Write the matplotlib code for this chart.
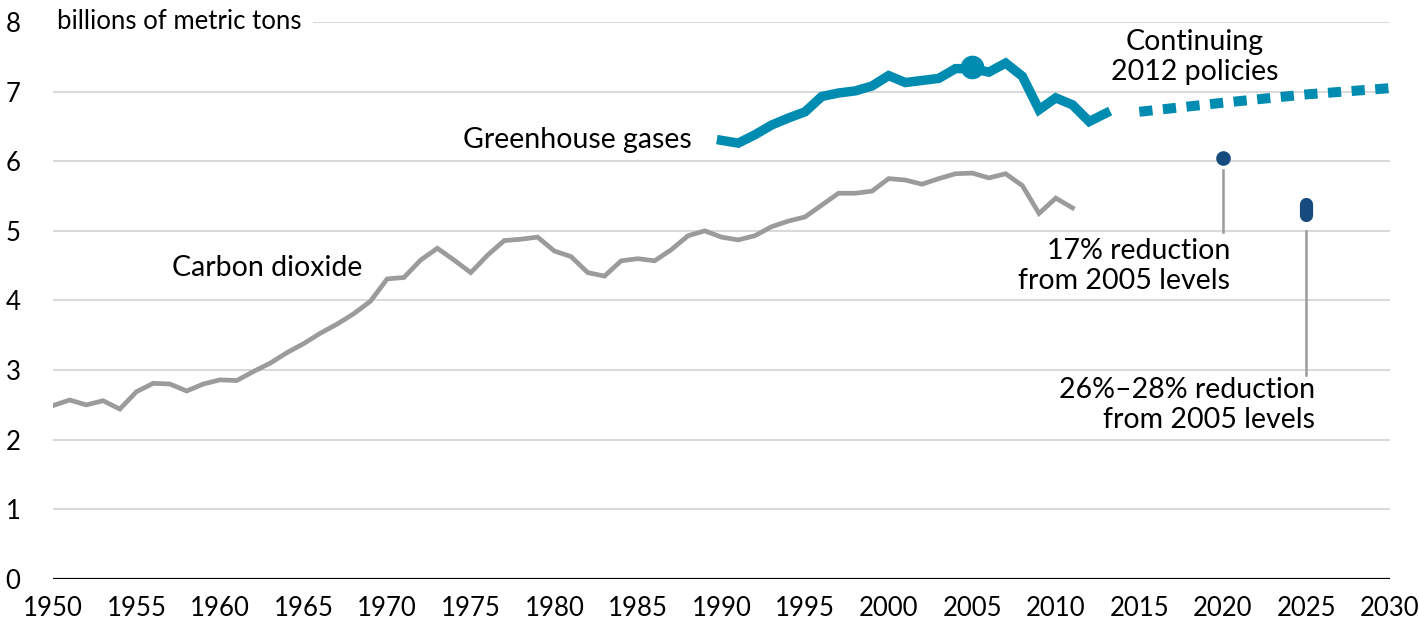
import numpy as np
import matplotlib.pyplot as plt

# annual emissions, billions of metric tons
co2_years = list(range(1950, 2012))
co2_values = [2.49, 2.57, 2.50, 2.56, 2.44, 2.69, 2.81, 2.80, 2.70, 2.80,
              2.86, 2.85, 2.98, 3.10, 3.25, 3.38, 3.53, 3.66, 3.81, 3.99,
              4.31, 4.33, 4.58, 4.75, 4.58, 4.40, 4.65, 4.86, 4.88, 4.91,
              4.71, 4.63, 4.40, 4.35, 4.57, 4.60, 4.57, 4.73, 4.93, 5.00,
              4.91, 4.87, 4.93, 5.06, 5.14, 5.20, 5.37, 5.54, 5.54, 5.57,
              5.75, 5.73, 5.67, 5.75, 5.82, 5.83, 5.76, 5.82, 5.65, 5.25,
              5.47, 5.33]

ghg_years = list(range(1990, 2014))
ghg_values = [6.30, 6.26, 6.38, 6.52, 6.62, 6.71, 6.93, 6.98, 7.01, 7.08,
              7.23, 7.13, 7.16, 7.19, 7.33, 7.33, 7.28, 7.41, 7.22, 6.74,
              6.91, 6.81, 6.57, 6.69]

proj_years = [2015, 2020, 2025, 2030]
proj_values = [6.71, 6.84, 6.96, 7.05]

peak_year, peak_value = 2005, 7.35
target17_year, target17_value = 2020, 6.05
target26_year, target26_range = 2025, (5.23, 5.39)

x_ticks = list(range(1950, 2031, 5))
y_ticks = list(range(0, 9))

teal = '#008cb1'
gray = '#9b9b9b'
navy = '#174b7e'

plt.rcParams['font.family'] = ['Lato', 'DejaVu Sans']

fig = plt.figure(figsize=(14.19, 6.37), dpi=100)
ax = fig.add_axes([0.0373, 0.0911, 0.9423, 0.8744])

ax.set_xlim(1950, 2030)
ax.set_ylim(0, 8)
ax.set_xticks(x_ticks)
ax.set_yticks(y_ticks)
ax.tick_params(length=0, labelsize=18.5, pad=12)
ax.tick_params(axis='y', pad=34)
for lab in ax.get_yticklabels():
    lab.set_horizontalalignment('left')
for s in ax.spines.values():
    s.set_visible(False)

for v in y_ticks[1:]:
    ax.axhline(v, color='#dadada', lw=1.5, zorder=0)
ax.axhline(0, color='black', lw=1.6, zorder=1)

ax.plot(co2_years, co2_values, color=gray, lw=3.4, solid_joinstyle='miter', zorder=3)
ax.plot(ghg_years, ghg_values, color=teal, lw=6.8, solid_joinstyle='miter', zorder=4)
ax.plot(proj_years, proj_values, color=teal, lw=7.2, dashes=(1.32, 1.05),
        dash_capstyle='butt', zorder=4)
ax.plot([peak_year], [peak_value], 'o', color=teal, ms=16, zorder=5)

# targets
ax.plot([target17_year], [target17_value], 'o', color=navy, ms=9.5, zorder=5)
ax.plot([target26_year, target26_year], target26_range, color=navy, lw=9.5,
        solid_capstyle='round', zorder=5)
ax.plot([target17_year, target17_year], [5.87, 4.98], color=gray, lw=1.8, zorder=3)
ax.plot([target26_year, target26_year], [5.0, 2.93], color=gray, lw=1.8, zorder=3)

tk = dict(fontsize=20.5, color='black')
ax.text(2020.45, 4.49, '17% reduction\nfrom 2005 levels', ha='right', va='center',
        linespacing=1.18, **tk)
ax.text(2025.5, 2.50, '26%\u201328% reduction\nfrom 2005 levels', ha='right', va='center',
        linespacing=1.18, **tk)
ax.text(2018.3, 7.50, 'Continuing\n2012 policies', ha='center', va='center',
        linespacing=1.18, **tk)
ax.text(1988.25, 6.31, 'Greenhouse gases', ha='right', va='center', **tk)
ax.text(1957.1, 4.47, 'Carbon dioxide', ha='left', va='center', **tk)
ax.text(1950.25, 8, 'billions of metric tons', ha='left', va='center', fontsize=18.5,
        bbox=dict(facecolor='white', edgecolor='none', pad=8), zorder=2)

fig.savefig('out.png', dpi=100)
